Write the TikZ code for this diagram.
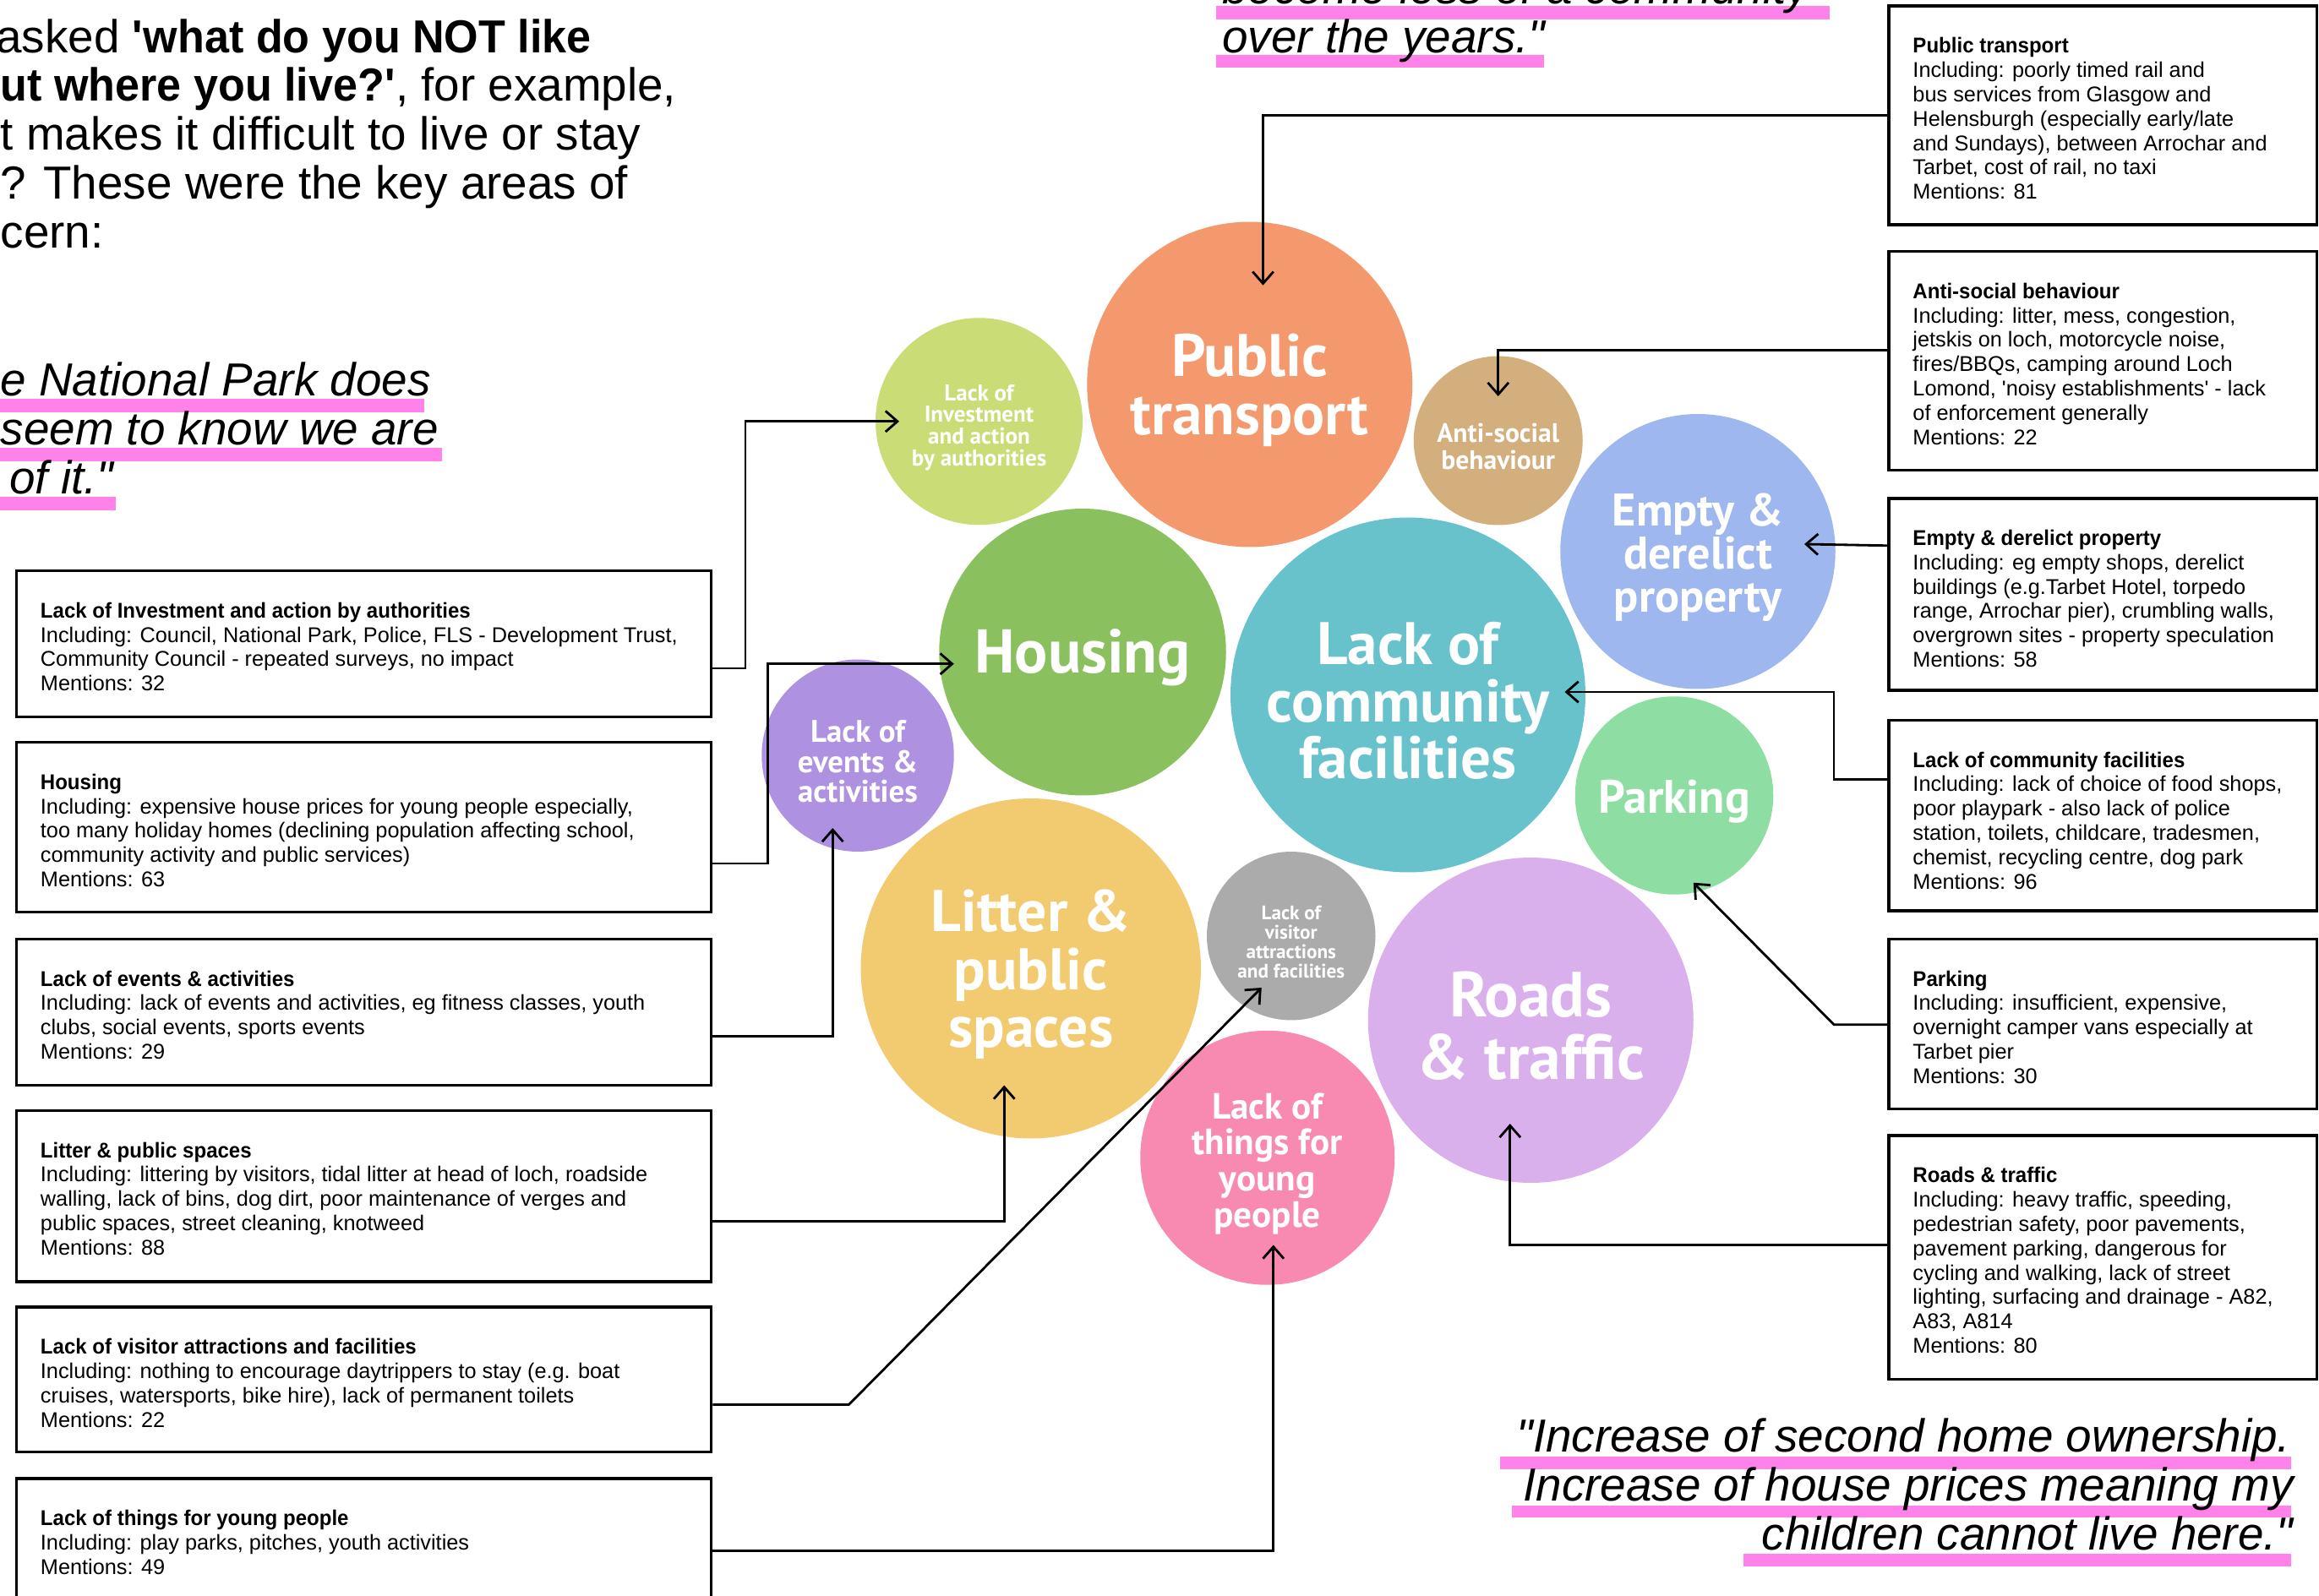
\documentclass[tikz,border=0pt]{standalone}
\usepackage{fontspec}
\setmainfont{Liberation Sans}[BoldFeatures={FakeStretch=0.95}]
\newfontfamily\bubblefont{PT Sans}
\usepackage{xcolor}
\usetikzlibrary{calc}
\usetikzlibrary{arrows.meta}
\definecolor{ptcol}{HTML}{F4996D}
\definecolor{investcol}{HTML}{C9DC76}
\definecolor{anticol}{HTML}{D3AF7E}
\definecolor{emptycol}{HTML}{9EB7EE}
\definecolor{housingcol}{HTML}{8AC15E}
\definecolor{commcol}{HTML}{67C2CB}
\definecolor{parkingcol}{HTML}{8EDDA2}
\definecolor{eventscol}{HTML}{AF91E1}
\definecolor{littercol}{HTML}{F2CB70}
\definecolor{visitorcol}{HTML}{ABABAB}
\definecolor{roadscol}{HTML}{D9AFEC}
\definecolor{youngcol}{HTML}{F88AB1}
\definecolor{barpink}{HTML}{FF82EA}
\tikzstyle{infobox} = [draw, line width=1pt, anchor=north west, inner sep=0pt]
\tikzstyle{infotext} = [anchor=north west, inner sep=0pt, align=left,
	font=\fontsize{7.2}{8.2}\selectfont]
\tikzstyle{bubble} = [circle, inner sep=0pt]
\tikzstyle{bubbletext} = [inner sep=0pt, text=white, align=center]
\tikzstyle{link} = [-{Straight Barb[length=4pt, width=7pt]}, line width=0.8pt]
\tikzstyle{leadline} = [anchor=base west, inner sep=0pt, font=\fontsize{15.6}{16.4}\selectfont]
\tikzstyle{saying} = [inner sep=0pt, font=\fontsize{15.6}{16.4}\selectfont\itshape]
\tikzstyle{hilite} = [fill=barpink]
\newcommand{\drawbubble}[7]{\node[bubble,
	fill=#4,
	minimum size=#3
	] (#1) at #2 {};
	\node[bubbletext, font=\bubblefont\bfseries\fontsize{#5}{#6}\selectfont] (#1txt) at ($ (#1) + (0, 4) $) {#7}}
\newcommand{\drawinfo}[5]{\node[infobox,
	minimum width=#3,
	minimum height=#4
	] (#1) at #2 {};
	\node[infotext] (#1txt) at ($ (#1.north west) + (17, 22) $) {#5}}

\begin{document}
\begin{tikzpicture}[x=0.0175cm, y=-0.0175cm]
			\useasboundingbox (0, 0) rectangle (1568, 1079);
			\fill [white] (0, 0) rectangle (1568, 1079);
			\clip (0, 0) rectangle (1568, 1079);
			
			\node (h1) [leadline] at (-3, 35.5) {asked \textbf{\textquotesingle what do you NOT like}};
			\node (h2) [leadline] at (0, 68.5) {\textbf{ut where you live?\textquotesingle}, for example,};
			\node (h3) [leadline] at (0, 101.5) {t makes it difficult to live or stay};
			\node (h4) [leadline] at (0, 134.5) {? These were the key areas of};
			\node (h5) [leadline] at (0, 167.5) {cern:};
			
			\fill [hilite] (0, 270) rectangle (287, 279);
			\fill [hilite] (0, 303) rectangle (299, 312);
			\fill [hilite] (0, 336) rectangle (78, 345);
			\node (q1) [saying, anchor=base west] at (0, 268) {e National Park does};
			\node (q2) [saying, anchor=base west] at (0, 301) {seem to know we are};
			\node (q3) [saying, anchor=base west] at (6, 334) {of it.\textquotedbl};
			
			\fill [hilite] (822, 4) rectangle (1237, 13);
			\fill [hilite] (822, 37) rectangle (1044, 46);
			\node (t1) [saying, anchor=base west] at (826, 2.8) {become less of a community};
			\node (t2) [saying, anchor=base west] at (826, 35.8) {over the years.\textquotedbl};
			
			\fill [hilite] (1014, 985) rectangle (1549, 993.5);
			\fill [hilite] (1022, 1018) rectangle (1549, 1026.5);
			\fill [hilite] (1179, 1051) rectangle (1549, 1059.5);
			\node (u1) [saying, anchor=base east] at (1549, 982) {\textquotedbl Increase of second home ownership.};
			\node (u2) [saying, anchor=base east] at (1551, 1015) {Increase of house prices meaning my};
			\node (u3) [saying, anchor=base east] at (1551, 1048) {children cannot live here.\textquotedbl};
			
			\drawbubble{pt}{(845, 260)}{3.85cm}{ptcol}{20.2}{19.5}{Public\\transport};
			\drawbubble{invest}{(662, 285)}{2.45cm}{investcol}{7.7}{7.3}{Lack of\\Investment\\and action\\by authorities};
			\drawbubble{anti}{(1013, 298)}{2cm}{anticol}{9}{9}{Anti-social\\behaviour};
			\drawbubble{empty}{(1148, 373)}{3.255cm}{emptycol}{15.4}{14.5}{Empty \&\\derelict\\property};
			\drawbubble{housing}{(732, 441)}{3.395cm}{housingcol}{20.8}{19.5}{Housing};
			\drawbubble{comm}{(952, 470)}{4.2cm}{commcol}{20.2}{19.2}{Lack of\\community\\facilities};
			\drawbubble{parking}{(1132, 538)}{2.345cm}{parkingcol}{15.8}{14.5}{Parking};
			\drawbubble{events}{(580, 511)}{2.275cm}{eventscol}{10.5}{10}{Lack of\\events \&\\activities};
			\drawbubble{litter}{(697, 655)}{4.025cm}{littercol}{19.8}{19.5}{Litter \&\\public\\spaces};
			\drawbubble{visitor}{(873, 633)}{1.995cm}{visitorcol}{6.6}{6.5}{Lack of\\visitor\\attractions\\and facilities};
			\drawbubble{roads}{(1035, 690)}{3.85cm}{roadscol}{21.5}{21}{Roads\\\& traffic};
			\drawbubble{young}{(857, 783)}{3.01cm}{youngcol}{12.3}{12.1}{Lack of\\things for\\young\\people};
			
			\drawinfo{r1}{(1276, 3)}{5.066cm}{2.59cm}{\textbf{Public transport}\\
				Including: poorly timed rail and\\
				bus services from Glasgow and\\
				Helensburgh (especially early/late\\
				and Sundays), between Arrochar and\\
				Tarbet, cost of rail, no taxi\\
				Mentions: 81};
			\drawinfo{r2}{(1276, 169)}{5.066cm}{2.59cm}{\textbf{Anti-social behaviour}\\
				Including: litter, mess, congestion,\\
				jetskis on loch, motorcycle noise,\\
				fires/BBQs, camping around Loch\\
				Lomond, \textquotesingle noisy establishments\textquotesingle{} - lack\\
				of enforcement generally\\
				Mentions: 22};
			\drawinfo{r3}{(1276, 336)}{5.066cm}{2.275cm}{\textbf{Empty \& derelict property}\\
				Including: eg empty shops, derelict\\
				buildings (e.g.Tarbet Hotel, torpedo\\
				range, Arrochar pier), crumbling walls,\\
				overgrown sites - property speculation\\
				Mentions: 58};
			\drawinfo{r4}{(1276, 486)}{5.066cm}{2.2575cm}{\textbf{Lack of community facilities}\\
				Including: lack of choice of food shops,\\
				poor playpark - also lack of police\\
				station, toilets, childcare, tradesmen,\\
				chemist, recycling centre, dog park\\
				Mentions: 96};
			\drawinfo{r5}{(1276, 634)}{5.066cm}{2.0125cm}{\textbf{Parking}\\
				Including: insufficient, expensive,\\
				overnight camper vans especially at\\
				Tarbet pier\\
				Mentions: 30};
			\drawinfo{r6}{(1276, 767)}{5.066cm}{2.8875cm}{\textbf{Roads \& traffic}\\
				Including: heavy traffic, speeding,\\
				pedestrian safety, poor pavements,\\
				pavement parking, dangerous for\\
				cycling and walking, lack of street\\
				lighting, surfacing and drainage - A82,\\
				A83, A814\\
				Mentions: 80};
			
			\drawinfo{b1}{(10, 385)}{8.225cm}{1.7325cm}{\textbf{Lack of Investment and action by authorities}\\
				Including: Council, National Park, Police, FLS - Development Trust,\\
				Community Council - repeated surveys, no impact\\
				Mentions: 32};
			\drawinfo{b2}{(10, 501)}{8.225cm}{2.0125cm}{\textbf{Housing}\\
				Including: expensive house prices for young people especially,\\
				too many holiday homes (declining population affecting school,\\
				community activity and public services)\\
				Mentions: 63};
			\drawinfo{b3}{(10, 634)}{8.225cm}{1.7325cm}{\textbf{Lack of events \& activities}\\
				Including: lack of events and activities, eg fitness classes, youth\\
				clubs, social events, sports events\\
				Mentions: 29};
			\drawinfo{b4}{(10, 750)}{8.225cm}{2.03cm}{\textbf{Litter \& public spaces}\\
				Including: littering by visitors, tidal litter at head of loch, roadside\\
				walling, lack of bins, dog dirt, poor maintenance of verges and\\
				public spaces, street cleaning, knotweed\\
				Mentions: 88};
			\drawinfo{b5}{(10, 883)}{8.225cm}{1.715cm}{\textbf{Lack of visitor attractions and facilities}\\
				Including: nothing to encourage daytrippers to stay (e.g. boat\\
				cruises, watersports, bike hire), lack of permanent toilets\\
				Mentions: 22};
			\drawinfo{b6}{(10, 999)}{8.225cm}{1.575cm}{\textbf{Lack of things for young people}\\
				Including: play parks, pitches, youth activities\\
				Mentions: 49};
			
			\draw [link] (r1.west) -| ($ (pt) + (9, -67) $);
			\draw [link] ($ (r2.west) + (0, -7) $) -| ($ (anti) + (0, -30) $);
			\draw [link] ($ (r3.west) + (0, -33) $) -- ($ (empty) + (72, -5) $);
			\draw [link] ($ (r4.west) + (0, -24.5) $) -- ++(-36, 0) |- ($ (comm) + (106, -2) $);
			\draw [link] ($ (r5.west) + (0, 0.5) $) -- ++(-36, 0) -- ($ (parking) + (13, 59) $);
			\draw [link] ($ (r6.west) + (0, -8.5) $) -| ($ (roads) + (-14, 70) $);
			
			\draw [link] ($ (b1.east) + (0, 16.5) $) -- ++(22, 0) |- ($ (invest) + (-54, 0) $);
			\draw [link] ($ (b2.east) + (0, 24.5) $) -- ++(37, 0) |- ($ (housing) + (-87, 8) $);
			\draw [link] ($ (b3.east) + (0, 16.5) $) -| ($ (events) + (-17, 49) $);
			\draw [link] ($ (b4.east) + (0, 17) $) -| ($ (litter) + (-18, 79) $);
			\draw [link] ($ (b5.east) + (0, 17) $) -- ++(92, 0) -- ($ (visitor) + (-20, 35) $);
			\draw [link] ($ (b6.east) + (0, 4) $) -| ($ (young) + (4, 59) $);
			
		\end{tikzpicture}
\end{document}
